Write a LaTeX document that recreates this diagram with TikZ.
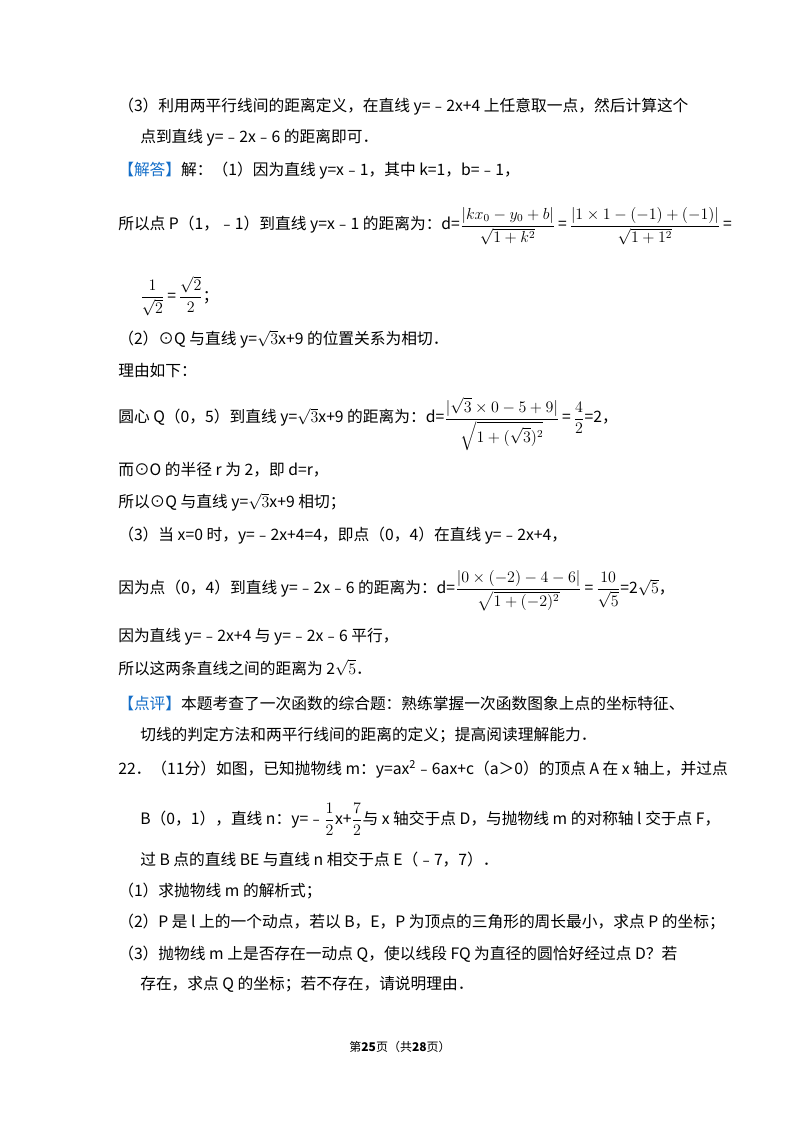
\documentclass[tikz,border=0pt]{standalone}
\usepackage{fontspec}
\setmainfont{Noto Sans CJK SC}
\usepackage{amsmath}
\definecolor{tagblue}{RGB}{20,110,200}
\begin{document}
\begin{tikzpicture}[x=0.75pt,y=-0.75pt,
  ln/.style={anchor=west,inner sep=0pt,font=\fontsize{11.8}{15}\selectfont}]
\useasboundingbox (0,0) rectangle (800,1132);
\node[ln] (l1) at (118,107) {（3）利用两平行线间的距离定义，在直线 y=﹣2x+4 上任意取一点，然后计算这个};
\node[ln] (l2) at (140,138) {点到直线 y=﹣2x﹣6 的距离即可．};
\node[ln] (l3) at (118,171) {\textcolor{tagblue}{【解答】}解：（1）因为直线 y=x﹣1，其中 k=1，b=﹣1，};
\node[ln] (l4) at (118,226) {所以点 P（1，﹣1）到直线 y=x﹣1 的距离为：d=$\dfrac{|kx_0-y_0+b|}{\sqrt{1+k^2}}$\,=\,$\dfrac{|1\times1-(-1)+(-1)|}{\sqrt{1+1^2}}$\,=};
\node[ln] (l5) at (140,296) {$\dfrac{1}{\sqrt2}$\,=\,$\dfrac{\sqrt2}{2}$；};
\node[ln] (l6) at (118,339) {（2）⊙Q 与直线 y=$\sqrt3$x+9 的位置关系为相切．};
\node[ln] (l7) at (118,371) {理由如下：};
\node[ln] (l8) at (118,424) {圆心 Q（0，5）到直线 y=$\sqrt3$x+9 的距离为：d=$\dfrac{|\sqrt3\times0-5+9|}{\sqrt{1+(\sqrt3)^2}}$\,=\,$\dfrac{4}{2}$=2，};
\node[ln] (l9) at (118,470) {而⊙O 的半径 r 为 2，即 d=r，};
\node[ln] (l10) at (118,502) {所以⊙Q 与直线 y=$\sqrt3$x+9 相切；};
\node[ln] (l11) at (118,536) {（3）当 x=0 时，y=﹣2x+4=4，即点（0，4）在直线 y=﹣2x+4，};
\node[ln] (l12) at (118,591) {因为点（0，4）到直线 y=﹣2x﹣6 的距离为：d=$\dfrac{|0\times(-2)-4-6|}{\sqrt{1+(-2)^2}}$\,=\,$\dfrac{10}{\sqrt5}$=2$\sqrt5$，};
\node[ln] (l13) at (118,637) {因为直线 y=﹣2x+4 与 y=﹣2x﹣6 平行，};
\node[ln] (l14) at (118,668) {所以这两条直线之间的距离为 2$\sqrt5$．};
\node[ln] (l15) at (118,704) {\textcolor{tagblue}{【点评】}本题考查了一次函数的综合题：熟练掌握一次函数图象上点的坐标特征、};
\node[ln] (l16) at (140,735) {切线的判定方法和两平行线间的距离的定义；提高阅读理解能力．};
\node[ln] (l17) at (118,769) {22．（11分）如图，已知抛物线 m：y=ax\textsuperscript{2}﹣6ax+c（a＞0）的顶点 A 在 x 轴上，并过点};
\node[ln] (l18) at (140,819) {B（0，1），直线 n：y=﹣$\dfrac12$x+$\dfrac72$与 x 轴交于点 D，与抛物线 m 的对称轴 l 交于点 F，};
\node[ln] (l19) at (140,860) {过 B 点的直线 BE 与直线 n 相交于点 E（﹣7，7）．};
\node[ln] (l20) at (118,891) {（1）求抛物线 m 的解析式；};
\node[ln] (l21) at (118,922) {（2）P 是 l 上的一个动点，若以 B，E，P 为顶点的三角形的周长最小，求点 P 的坐标；};
\node[ln] (l22) at (118,954) {（3）抛物线 m 上是否存在一动点 Q，使以线段 FQ 为直径的圆恰好经过点 D？若};
\node[ln] (l23) at (140,984) {存在，求点 Q 的坐标；若不存在，请说明理由．};
\node[inner sep=0pt,font=\fontsize{9}{11}\selectfont] (pg) at (400,1047) {第\textbf{25}页（共\textbf{28}页）};
\end{tikzpicture}
\end{document}
